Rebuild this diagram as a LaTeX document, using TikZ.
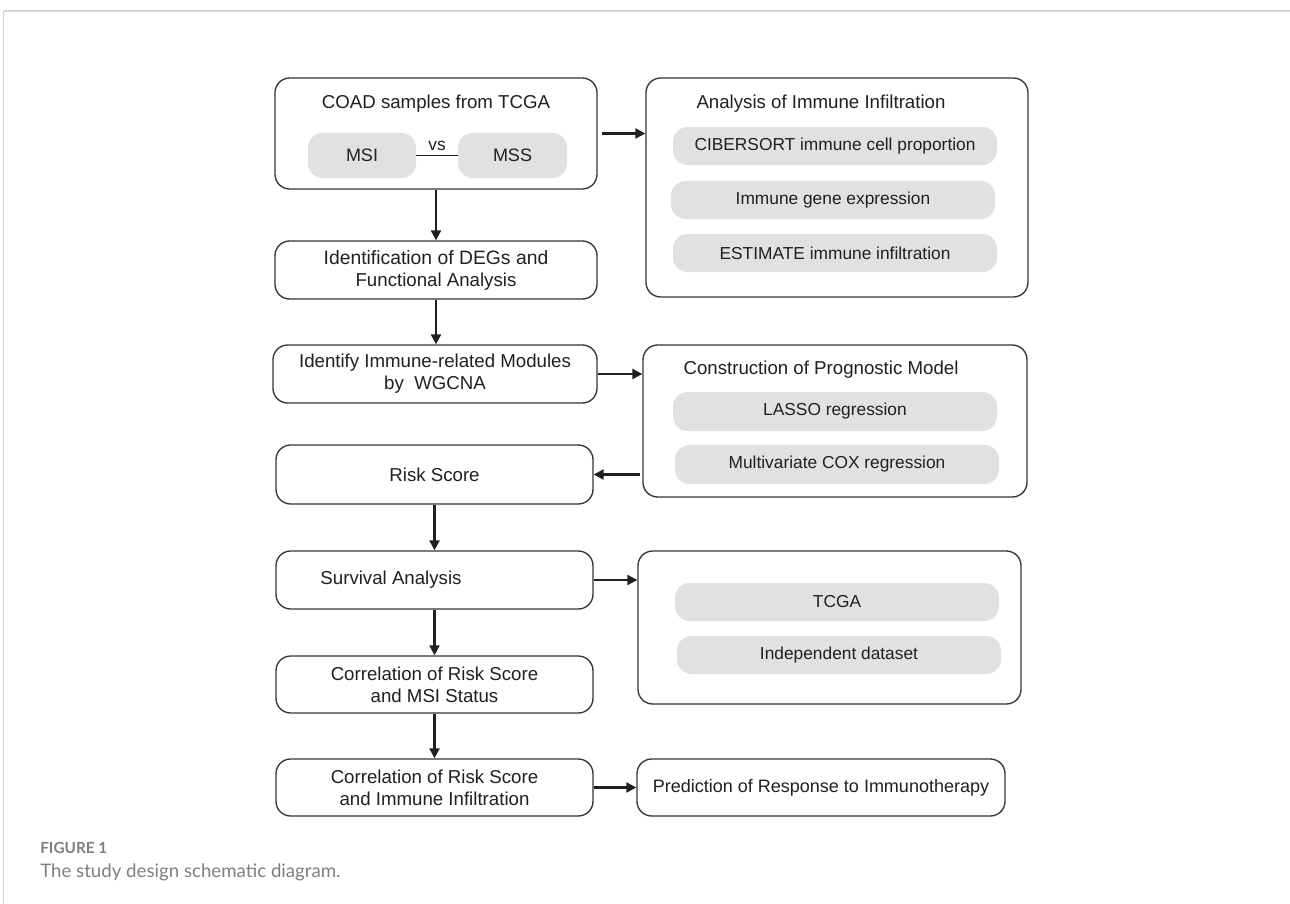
\documentclass[tikz,border=0pt]{standalone}
\usepackage{fontspec}
\setmainfont{Liberation Sans}
\newfontfamily\capfont{Lato}
\usetikzlibrary{arrows.meta}
\definecolor{linec}{HTML}{3A3436}
\definecolor{pillc}{HTML}{E0E1E0}
\definecolor{txt}{HTML}{231F20}
\definecolor{capc}{HTML}{808080}
\definecolor{framec}{HTML}{D2D2D2}
\tikzset{
  box/.style={draw=linec, line width=1pt, rounded corners=11pt, fill=white, inner sep=0pt, text=txt, align=center, font=\fontsize{14}{16.5}\selectfont},
  pill/.style={fill=pillc, rounded corners=11pt, inner sep=0pt, text=txt, font=\fontsize{13}{15}\selectfont},
  ttl/.style={inner sep=0pt, text=txt, font=\fontsize{14}{16.5}\selectfont},
  arr/.style={draw=txt, line width=1.6pt, -{Triangle[length=7.5pt,width=7.5pt]}},
  vsline/.style={draw=txt, line width=1pt},
  captxt/.style={inner sep=0pt, anchor=base west, text=capc}
}
\begin{document}
\begin{tikzpicture}[x=0.75pt,y=-0.75pt]
\useasboundingbox (0,0) rectangle (1290,904);
\fill[white] (0,0) rectangle (1290,904);
% frame
\coordinate (fc) at (3.5,11);
\coordinate (fr) at (1290,11);
\coordinate (fb) at (3.5,904);
\draw[framec, line width=1.5pt] (fc) -- (fr);
\draw[framec, line width=0.8pt] (fc) -- (fb);

% left column
\node[box, minimum width=322*0.75pt, minimum height=111*0.75pt] (coad) at (436,133.5) {};
\node[ttl] (coadt) at (436,104) {COAD samples from TCGA};
\node[pill, minimum width=108*0.75pt, minimum height=45*0.75pt, font=\fontsize{13.5}{15}\selectfont] (msi) at (362,155.5) {MSI};
\node[pill, minimum width=109*0.75pt, minimum height=45*0.75pt, font=\fontsize{13.5}{15}\selectfont] (mss) at (512.5,155.5) {MSS};
\draw[vsline] (msi.east) -- node[above, inner sep=3pt, text=txt, font=\fontsize{13}{15}\selectfont] (vs) {vs} (mss.west);

\node[box, minimum width=322*0.75pt, minimum height=58*0.75pt] (degs) at (436,270) {{\fontsize{14.5}{16.5}\selectfont Identification of DEGs and}\\Functional Analysis};
\node[box, minimum width=324*0.75pt, minimum height=58*0.75pt] (wgcna) at (435,374) {Identify Immune-related Modules\\by\ \ WGCNA};
\node[box, minimum width=317*0.75pt, minimum height=59*0.75pt] (risk) at (434.5,474.5) {Risk Score};
\node[box, minimum width=317*0.75pt, minimum height=58*0.75pt] (surv) at (434.5,580) {};
\node[ttl] (survt) at (391,580) {Survival Analysis};
\node[box, minimum width=317*0.75pt, minimum height=57*0.75pt] (cmsi) at (434.5,684.5) {Correlation of Risk Score\\and MSI Status};
\node[box, minimum width=317*0.75pt, minimum height=57*0.75pt] (cimm) at (434.5,787.5) {Correlation of Risk Score\\and Immune Infiltration};

% right column
\node[box, minimum width=382*0.75pt, minimum height=219*0.75pt] (ana) at (837,187.5) {};
\node[ttl] (anat) at (821,104) {Analysis of Immune Infiltration};
\node[pill, minimum width=324*0.75pt, minimum height=38*0.75pt] (cib) at (835,146) {CIBERSORT immune cell proportion};
\node[pill, minimum width=324*0.75pt, minimum height=38*0.75pt] (ige) at (833,200) {Immune gene expression};
\node[pill, minimum width=324*0.75pt, minimum height=38*0.75pt] (est) at (835,253) {ESTIMATE immune infiltration};

\node[box, minimum width=384*0.75pt, minimum height=152*0.75pt] (prog) at (835,421) {};
\node[ttl] (progt) at (821,370) {Construction of Prognostic Model};
\node[pill, minimum width=324*0.75pt, minimum height=39*0.75pt] (lasso) at (835,411.5) {LASSO regression};
\node[pill, minimum width=324*0.75pt, minimum height=39*0.75pt] (cox) at (837,464.5) {Multivariate COX regression};

\node[box, minimum width=383*0.75pt, minimum height=153*0.75pt] (val) at (829.5,627.5) {};
\node[pill, minimum width=324*0.75pt, minimum height=38*0.75pt] (tcga) at (837,602) {TCGA};
\node[pill, minimum width=324*0.75pt, minimum height=38*0.75pt] (indep) at (839,655) {Independent dataset};

\node[box, minimum width=368*0.75pt, minimum height=57*0.75pt, font=\fontsize{13.5}{16.5}\selectfont] (pred) at (821,787.5) {Prediction of Response to Immunotherapy};

% arrows
\draw[arr] (coad.south) -- (degs.north);
\draw[arr] (degs.south) -- (degs.south |- wgcna.north);
\draw[arr] (risk.south) -- (surv.north);
\draw[arr] (surv.south) -- (cmsi.north);
\draw[arr] (cmsi.south) -- (cimm.north);
\draw[arr] ([xshift=3.5pt]coad.east) -- (coad.east -| ana.west);
\draw[arr] (wgcna.east) -- (wgcna.east -| prog.west);
\draw[arr] ([xshift=-2pt]risk.east -| prog.west) -- (risk.east);
\draw[arr] (surv.east) -- (surv.east -| val.west);
\draw[arr] (cimm.east) -- (pred.west);

% caption
\node[captxt, font=\capfont\bfseries\fontsize{11.5}{14}\selectfont] (fig) at (40,853) {FIGURE 1};
\node[captxt, font=\capfont\fontsize{14}{16}\selectfont] (cap) at (40,877) {The study design schematic diagram.};
\end{tikzpicture}
\end{document}
